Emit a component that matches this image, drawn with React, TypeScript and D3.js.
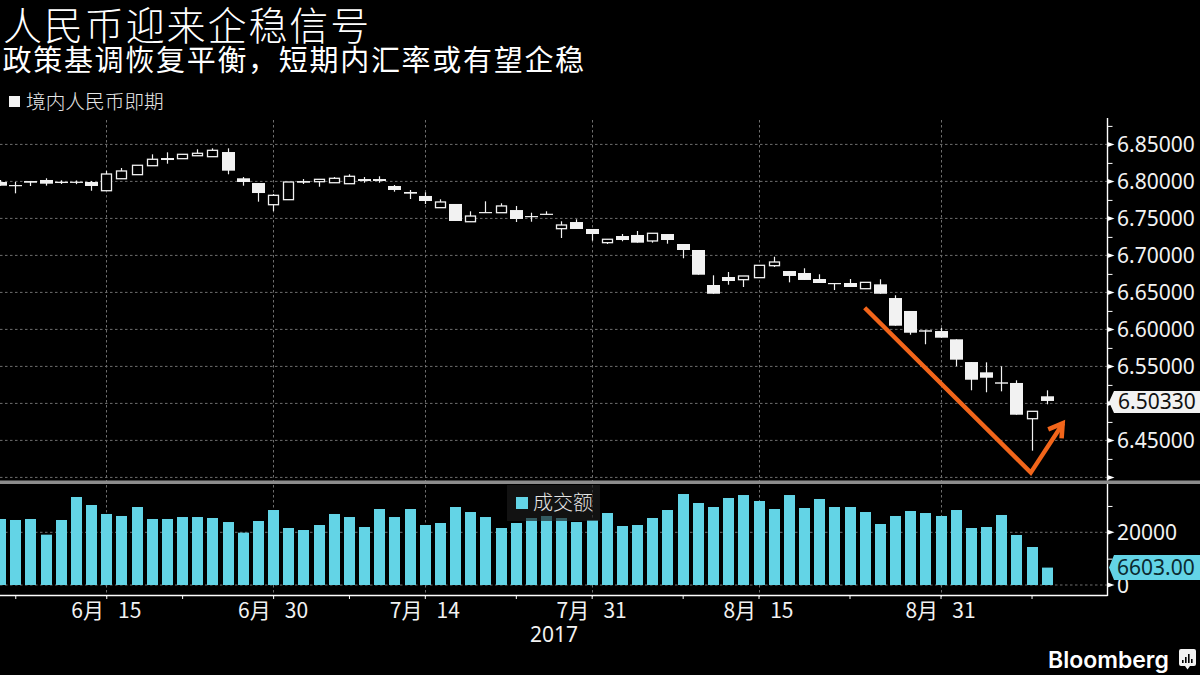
import { axisBottom, axisRight, line, scaleLinear, select } from "d3";
import { useEffect, useRef } from "react";

// weekdays 2017-06-06 .. 2017-09-11, indexed 0..69
const opens = [
  6.7992, 6.7951, 6.8005, 6.8019, 6.7996, 6.7996, 6.7992, 6.7874, 6.8036, 6.8091,
  6.8212, 6.8316, 6.8307, 6.8347, 6.8334, 6.8397, 6.8042, 6.7978, 6.7685, 6.7753,
  6.8005, 6.7996, 6.7982, 6.7969, 6.8032, 6.8032, 6.7938, 6.7857, 6.7803, 6.7645,
  6.7695, 6.7455, 6.7586, 6.7577, 6.7613, 6.7532, 6.7563, 6.7361, 6.7451, 6.7357,
  6.7172, 6.7262, 6.7276, 6.7195, 6.7289, 6.7154, 6.7073, 6.66, 6.6708, 6.6672,
  6.6699, 6.6861, 6.6789, 6.6762, 6.6681, 6.6627, 6.6627, 6.655, 6.6609, 6.6424,
  6.6249, 6.5988, 6.5978, 6.5866, 6.5559, 6.542, 6.5285, 6.5276, 6.4793, 6.5096,
];
const highs = [
  6.8019, 6.7992, 6.8005, 6.8042, 6.8015, 6.8012, 6.8005, 6.8141, 6.8181, 6.8218,
  6.8366, 6.8393, 6.8366, 6.8434, 6.8447, 6.8447, 6.8059, 6.7978, 6.783, 6.7992,
  6.8032, 6.8028, 6.8059, 6.8096, 6.8059, 6.8069, 6.7951, 6.7884, 6.7853, 6.7758,
  6.7695, 6.7596, 6.7731, 6.7704, 6.7668, 6.7577, 6.7596, 6.7461, 6.7488, 6.7357,
  6.7218, 6.7289, 6.733, 6.7299, 6.7289, 6.7154, 6.7073, 6.6731, 6.6776, 6.6722,
  6.6866, 6.6982, 6.6789, 6.6826, 6.6745, 6.6627, 6.6681, 6.6636, 6.6677, 6.6461,
  6.6249, 6.5988, 6.6023, 6.5866, 6.5559, 6.5555, 6.5501, 6.5312, 6.4893, 6.5177,
];
const lows = [
  6.7942, 6.7839, 6.7938, 6.7942, 6.7965, 6.7963, 6.7874, 6.7874, 6.8036, 6.8091,
  6.8212, 6.8239, 6.8307, 6.8347, 6.8334, 6.8096, 6.7942, 6.7726, 6.7596, 6.7753,
  6.7965, 6.7928, 6.7982, 6.7969, 6.7982, 6.7982, 6.7861, 6.7762, 6.7695, 6.7645,
  6.7465, 6.7455, 6.7577, 6.7577, 6.7451, 6.7455, 6.755, 6.7235, 6.7357, 6.7199,
  6.7154, 6.7191, 6.7172, 6.7172, 6.7158, 6.6961, 6.6739, 6.6482, 6.6604, 6.6573,
  6.6699, 6.6843, 6.6636, 6.6668, 6.6627, 6.6532, 6.6573, 6.655, 6.6482, 6.605,
  6.5928, 6.5799, 6.5888, 6.5501, 6.5177, 6.515, 6.5163, 6.4847, 6.4361, 6.4988,
];
const closes = [
  6.7942, 6.7938, 6.7982, 6.7969, 6.7978, 6.798, 6.7938, 6.81, 6.8141, 6.8218,
  6.8299, 6.8289, 6.8366, 6.838, 6.842, 6.8145, 6.7992, 6.7843, 6.7812, 6.7992,
  6.7982, 6.8028, 6.8042, 6.8069, 6.8005, 6.8005, 6.7884, 6.7834, 6.7735, 6.7722,
  6.7465, 6.7532, 6.7577, 6.7668, 6.7492, 6.7523, 6.755, 6.7411, 6.7357, 6.7289,
  6.7218, 6.7208, 6.7172, 6.7299, 6.7208, 6.7073, 6.6739, 6.6482, 6.6654, 6.6722,
  6.6866, 6.6911, 6.6722, 6.6668, 6.6627, 6.6618, 6.6573, 6.6636, 6.6482, 6.605,
  6.5955, 6.5969, 6.5888, 6.5591, 6.532, 6.5347, 6.5266, 6.4847, 6.4893, 6.5033,
];
const volumes = [
  25050, 24670, 25050, 19100, 24670, 33400, 30360, 26950, 26190, 29600,
  25050, 25050, 25800, 25800, 25430, 23900, 19860, 24290, 28460, 21630,
  20870, 22770, 26950, 25800, 22010, 28840, 25800, 28840, 22770, 23530,
  29600, 27700, 25800, 21630, 23530, 25430, 26190, 25430, 23900, 24670,
  27320, 22390, 22770, 25430, 28460, 34530, 31120, 29600, 33020, 34150,
  31880, 28840, 34150, 29220, 32640, 29600, 29600, 27700, 23150, 26190,
  28080, 27320, 26190, 28460, 21630, 22010, 26570, 18980, 14420, 6603,
];

const dateTicks = [7, 18, 28, 39, 50, 62];
const dateLabels = ["6月   15", "6月   30", "7月   14", "7月   31", "8月   15", "8月   31"];
const minorDateTicks = [1, 12, 23, 34, 45, 56, 68];
const priceTicks = [6.4, 6.45, 6.5, 6.55, 6.6, 6.65, 6.7, 6.75, 6.8, 6.85];
const minorPriceTicks = [6.425, 6.475, 6.525, 6.575, 6.625, 6.675, 6.725, 6.775, 6.825, 6.875];
const volumeTicks = [0, 20000];
const minorVolumeTicks = [10000, 30000];
const lastPrice = 6.5033;
const lastVolume = 6603;

// hand drawn annotation, in [day index, rate]
const trendLine: [number, number][] = [[57.0, 6.6293], [67.95, 6.4065], [70.08, 6.4731]];
const arrowHead: [number, number][] = [[69.1, 6.465], [70.05, 6.4731], [69.98, 6.4528]];

const cjk = "'Noto Sans CJK SC', 'Noto Sans', sans-serif";
const latin = "'Noto Sans', sans-serif";
const cyan = "#63d4e6";
const orange = "#f2651a";

function App() {
  const svgRef = useRef<SVGSVGElement>(null);

  useEffect(() => {
    const svg = select(svgRef.current);
    svg.selectAll("*").remove();

    const x = scaleLinear([0, 69], [0.1, 1046.7]);
    const y = scaleLinear([6.4, 6.8], [477.4, 181.4]);
    const yVol = scaleLinear([0, 20000], [585, 532.3]);
    const axisX = 1107.5;

    // gridlines
    const grid = svg.append("g").attr("stroke", "#6e6e6e").attr("stroke-dasharray", "2.5 2.5");
    grid.selectAll("line.h").data(priceTicks).join("line")
      .attr("x1", 0).attr("x2", axisX).attr("y1", (d) => y(d)).attr("y2", (d) => y(d));
    grid.selectAll("line.v").data(volumeTicks).join("line")
      .attr("x1", 0).attr("x2", axisX).attr("y1", (d) => yVol(d)).attr("y2", (d) => yVol(d));
    const vgrid = svg.append("g").attr("stroke", "#6e6e6e").attr("stroke-dasharray", "2.5 2.5");
    vgrid.selectAll("line").data(dateTicks).join("line")
      .attr("x1", (d) => Math.round(x(d)) + 0.5).attr("x2", (d) => Math.round(x(d)) + 0.5)
      .attr("y1", 120).attr("y2", 597);

    // candles
    const candles = svg.append("g");
    opens.forEach((o, i) => {
      const c = closes[i];
      const cx = Math.round(x(i)) + 0.5;
      const top = y(Math.max(o, c));
      const bottom = y(Math.min(o, c));
      candles.append("line").attr("x1", cx).attr("x2", cx)
        .attr("y1", y(highs[i])).attr("y2", y(lows[i]))
        .attr("stroke", "#f2f2f2").attr("stroke-width", 1.2);
      if (c > o) {
        candles.append("rect").attr("x", cx - 5).attr("width", 10)
          .attr("y", top).attr("height", bottom - top)
          .attr("fill", "#000").attr("stroke", "#f2f2f2").attr("stroke-width", 1.3);
      } else {
        candles.append("rect").attr("x", cx - 6.5).attr("width", 13)
          .attr("y", top).attr("height", Math.max(bottom - top, 1.2))
          .attr("fill", "#f2f2f2");
      }
    });

    // volume bars
    svg.append("g").selectAll("rect").data(volumes).join("rect")
      .attr("x", (_, i) => Math.round(x(i)) + 0.5 - 5.5)
      .attr("width", 11)
      .attr("y", (d) => yVol(d))
      .attr("height", (d) => 585 - yVol(d))
      .attr("fill", cyan);

    // panel divider
    svg.append("rect").attr("x", 0).attr("y", 480.5).attr("width", 1200).attr("height", 3.5).attr("fill", "#8c8c8c");

    // price axis
    const yAxis = svg.append("g").attr("transform", `translate(${axisX},0)`)
      .call(axisRight(y).tickValues(minorPriceTicks).tickSize(5).tickFormat(() => ""));
    yAxis.select(".domain").remove();
    yAxis.selectAll("line").attr("stroke", "#fff");
    svg.append("line").attr("x1", axisX).attr("x2", axisX).attr("y1", 118).attr("y2", 480.5)
      .attr("stroke", "#fff").attr("stroke-width", 1.4);
    svg.append("g").selectAll("path").data(priceTicks).join("path")
      .attr("d", (d) => `M${axisX},${y(d) - 2.5}L${axisX + 7},${y(d)}L${axisX},${y(d) + 2.5}Z`)
      .attr("fill", "#fff");
    svg.append("g").selectAll("text").data(priceTicks.filter((d) => d > 6.4 && d !== 6.5)).join("text")
      .attr("x", 1117).attr("y", (d) => y(d)).attr("dy", "0.36em")
      .attr("font-family", latin).attr("font-size", 21).attr("fill", "#f2f2f2")
      .text((d) => d.toFixed(5));

    // volume axis
    const vAxis = svg.append("g").attr("transform", `translate(${axisX},0)`)
      .call(axisRight(yVol).tickValues(minorVolumeTicks).tickSize(5).tickFormat(() => ""));
    vAxis.select(".domain").remove();
    vAxis.selectAll("line").attr("stroke", "#fff");
    svg.append("line").attr("x1", axisX).attr("x2", axisX).attr("y1", 484).attr("y2", 596)
      .attr("stroke", "#fff").attr("stroke-width", 1.4);
    svg.append("g").selectAll("path").data(volumeTicks).join("path")
      .attr("d", (d) => `M${axisX},${yVol(d) - 2.5}L${axisX + 7},${yVol(d)}L${axisX},${yVol(d) + 2.5}Z`)
      .attr("fill", "#fff");
    svg.append("g").selectAll("text").data(volumeTicks).join("text")
      .attr("x", 1117).attr("y", (d) => yVol(d)).attr("dy", "0.36em")
      .attr("font-family", latin).attr("font-size", 21).attr("fill", "#f2f2f2")
      .text((d) => String(d));

    // date axis
    const xAxis = svg.append("g").attr("transform", "translate(0,595.5)")
      .call(axisBottom(x).tickValues(minorDateTicks.concat(dateTicks)).tickSize(3.5).tickFormat(() => ""));
    xAxis.select(".domain").remove();
    xAxis.selectAll("line").attr("stroke", "#fff");
    svg.append("line").attr("x1", 0).attr("x2", axisX).attr("y1", 595.5).attr("y2", 595.5)
      .attr("stroke", "#fff").attr("stroke-width", 1.4);
    svg.append("g").selectAll("text").data(dateTicks).join("text")
      .attr("x", (d) => x(d)).attr("y", 610).attr("dy", "0.36em")
      .attr("text-anchor", "middle").attr("font-family", cjk).attr("font-size", 21)
      .attr("fill", "#f2f2f2").style("white-space", "pre")
      .text((_, i) => dateLabels[i]);
    svg.append("text").attr("x", 554).attr("y", 634).attr("dy", "0.36em")
      .attr("text-anchor", "middle").attr("font-family", latin).attr("font-size", 21)
      .attr("fill", "#f2f2f2").text("2017");

    // last value tags
    const tag = (cy: number, fill: string, top: number, bottom: number) =>
      svg.append("path")
        .attr("d", `M1109,${cy}L1114,${top}H1200V${bottom}H1114Z`)
        .attr("fill", fill);
    tag(y(lastPrice) + 1, "#f2f2f2", y(lastPrice) - 10, y(lastPrice) + 12);
    svg.append("text").attr("x", 1118).attr("y", y(lastPrice)).attr("dy", "0.36em")
      .attr("font-family", latin).attr("font-size", 21).attr("fill", "#111")
      .text(lastPrice.toFixed(5));
    tag(yVol(lastVolume), cyan, yVol(lastVolume) - 12.5, yVol(lastVolume) + 12.5);
    svg.append("text").attr("x", 1117).attr("y", yVol(lastVolume)).attr("dy", "0.36em")
      .attr("font-family", latin).attr("font-size", 21).attr("fill", "#0b2a30")
      .text(lastVolume.toFixed(2));

    // orange arrow
    const arrow = line<[number, number]>().x((d) => x(d[0])).y((d) => y(d[1]));
    svg.append("path").attr("d", arrow(trendLine)).attr("fill", "none")
      .attr("stroke", orange).attr("stroke-width", 4.4).attr("stroke-linejoin", "miter");
    svg.append("path").attr("d", arrow(arrowHead)).attr("fill", "none")
      .attr("stroke", orange).attr("stroke-width", 4.6);

    // legends
    svg.append("rect").attr("x", 9).attr("y", 96).attr("width", 11).attr("height", 11).attr("fill", "#f2f2f2");
    svg.append("text").attr("x", 26).attr("y", 102).attr("dy", "0.36em")
      .attr("font-family", cjk).attr("font-size", 19.7).attr("font-weight", 300).attr("fill", "#e6e6e6")
      .text("境内人民币即期");
    svg.append("rect").attr("x", 507).attr("y", 485).attr("width", 93).attr("height", 36)
      .attr("fill", "#1c1c1c").attr("fill-opacity", 0.65);
    svg.append("rect").attr("x", 516).attr("y", 497).attr("width", 12).attr("height", 12).attr("fill", cyan);
    svg.append("text").attr("x", 533).attr("y", 503).attr("dy", "0.36em")
      .attr("font-family", cjk).attr("font-size", 20).attr("font-weight", 300).attr("fill", "#e6e6e6")
      .text("成交额");

    // titles
    svg.append("text").attr("x", 3).attr("y", 40)
      .attr("font-family", cjk).attr("font-size", 39).attr("letter-spacing", 1.9).attr("font-weight", 300).attr("fill", "#fff")
      .text("人民币迎来企稳信号");
    svg.append("text").attr("x", 2.5).attr("y", 71)
      .attr("font-family", cjk).attr("font-size", 29).attr("letter-spacing", 1.7).attr("font-weight", 400).attr("fill", "#fff")
      .text("政策基调恢复平衡，短期内汇率或有望企稳");

    // logo
    svg.append("text").attr("x", 1048).attr("y", 668)
      .attr("font-family", "Inter, 'Noto Sans', sans-serif").attr("font-size", 23).attr("font-weight", 600).attr("fill", "#fff")
      .text("Bloomberg");
    svg.append("path")
      .attr("d", "M1181,649H1194Q1196,649 1196,651V664Q1196,666 1194,666H1190L1187.5,669.5L1185,666H1181Q1179,666 1179,664V651Q1179,649 1181,649Z")
      .attr("fill", "#f2f2f2");
    [[1182, 3], [1185, 6], [1188, 9], [1191, 4]].forEach(([bx, bh]) => {
      svg.append("rect").attr("x", bx).attr("y", 663 - bh).attr("width", 1.6).attr("height", bh).attr("fill", "#000");
    });
  }, []);

  return (
    <div style={{ position: "fixed", left: 0, top: 0, width: 1200, height: 675, background: "#000" }}>
      <svg ref={svgRef} width={1200} height={675} style={{ display: "block", background: "#000" }}></svg>
    </div>
  );
}

export default App;
